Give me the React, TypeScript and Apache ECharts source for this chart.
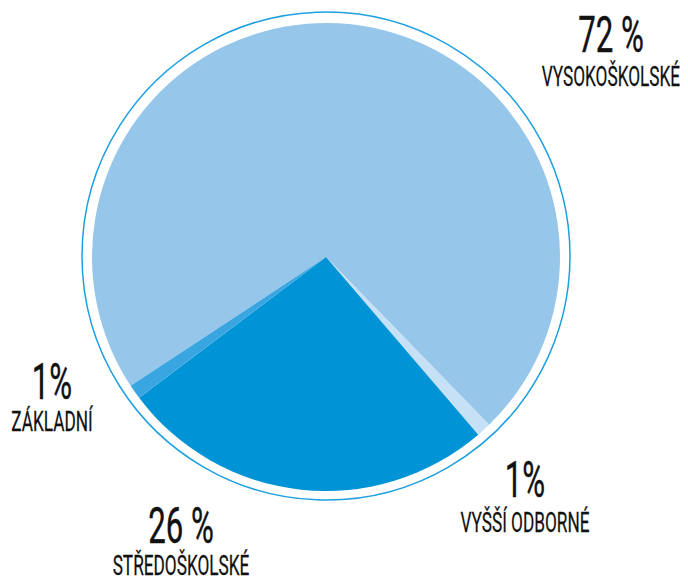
import React, { useEffect, useRef } from "react";
import * as echarts from "echarts";

const categories = ["VYSOKOŠKOLSKÉ", "VYŠŠÍ ODBORNÉ", "STŘEDOŠKOLSKÉ", "ZÁKLADNÍ"];
const values = [72, 1, 26, 1];
const valueLabels = ["72 %", "1%", "26 %", "1%"];
const colors = ["#97c6eb", "#c6e0f5", "#0094d6", "#3aa6e1"];
// label anchor positions (value line center, name line center)
const labelPos = [
  { x: 611, vy: 35, ny: 77.5 },
  { x: 525, vy: 480, ny: 523.5 },
  { x: 181, vy: 526.5, ny: 566 },
  { x: 52, vy: 382, ny: 422 },
];

export default function App() {
  const ref = useRef<HTMLDivElement>(null);
  useEffect(() => {
    if (!ref.current) return;
    const chart = echarts.init(ref.current, null, { renderer: "svg" });
    const font = "Roboto, 'Liberation Sans', sans-serif";
    const graphics: any[] = [
      {
        type: "circle",
        silent: true,
        shape: { cx: 326, cy: 256, r: 244 },
        style: { fill: "none", stroke: "#1ea0e0", lineWidth: 1.5 },
      },
    ];
    categories.forEach((c, i) => {
      const p = labelPos[i];
      graphics.push({
        type: "text",
        x: p.x,
        y: p.vy,
        scaleX: 0.65,
        scaleY: 1.03,
        style: {
          text: valueLabels[i],
          font: `normal 48px ${font}`,
          fill: "#111111",
          stroke: "#111111",
          lineWidth: 0.4,
          textAlign: "center",
          textVerticalAlign: "middle",
        },
      });
      graphics.push({
        type: "text",
        x: p.x,
        y: p.ny,
        scaleX: 0.65,
        scaleY: 1.03,
        style: {
          text: c,
          font: `normal 26.5px ${font}`,
          fill: "#111111",
          stroke: "#111111",
          lineWidth: 0.25,
          textAlign: "center",
          textVerticalAlign: "middle",
        },
      });
    });
    chart.setOption({
      animation: false,
      backgroundColor: "#ffffff",
      graphic: graphics,
      series: [
        {
          type: "pie",
          center: [326, 257],
          radius: [0, 234],
          startAngle: 213.4,
          clockwise: true,
          silent: true,
          label: { show: false },
          labelLine: { show: false },
          itemStyle: { borderWidth: 0 },
          data: categories.map((c, i) => ({
            name: c,
            value: values[i],
            itemStyle: { color: colors[i] },
          })),
        },
      ],
    });
    return () => chart.dispose();
  }, []);
  return (
    <div
      ref={ref}
      style={{ position: "fixed", left: 0, top: 0, width: 688, height: 581 }}
    />
  );
}
